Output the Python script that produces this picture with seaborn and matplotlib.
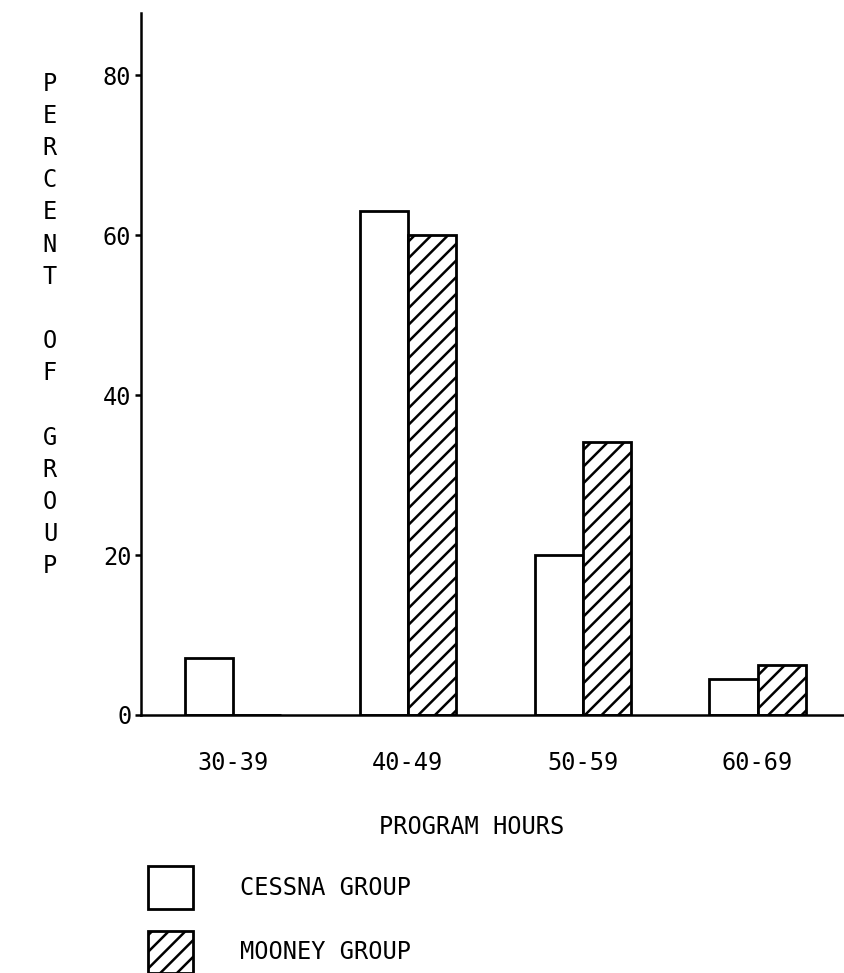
import pandas as pd
import matplotlib
matplotlib.use("Agg")
import matplotlib.pyplot as plt
import seaborn as sns

# values (percent of group)
hours = ["30-39", "40-49", "50-59", "60-69"]
cessna = [7.1, 63.0, 20.0, 4.5]
mooney = [0.0, 60.0, 34.2, 6.3]
groups = ["CESSNA GROUP", "MOONEY GROUP"]

df = pd.DataFrame({
    "hours": hours * 2,
    "pct": cessna + mooney,
    "group": [groups[0]] * len(hours) + [groups[1]] * len(hours),
})

sns.set_style("white")
plt.rcParams["font.family"] = ["DejaVu Sans Mono", "DejaVu Sans"]
plt.rcParams["text.color"] = "black"
plt.rcParams["xtick.color"] = "black"
plt.rcParams["ytick.color"] = "black"
plt.rcParams["axes.labelcolor"] = "black"
plt.rcParams["hatch.linewidth"] = 1.8
plt.rcParams["hatch.color"] = "black"

fig = plt.figure(figsize=(8.45, 9.73), dpi=100)
ax = fig.add_axes([141 / 845, 258 / 973, 1 - 141 / 845, (715 - 13) / 973])

sns.barplot(
    data=df, x="hours", y="pct", hue="group", order=hours, hue_order=groups,
    palette=["white", "white"], edgecolor="black", linewidth=2.0,
    width=0.55, gap=0, ax=ax,
)

# hatch the Mooney bars
for bar in ax.containers[1]:
    bar.set_hatch("//")

ax.set_xlim(-0.526, 3.5)
ax.set_ylim(0, 87.8)
ax.set_yticks([0, 20, 40, 60, 80])

for side in ["top", "right"]:
    ax.spines[side].set_visible(False)
for side in ["left", "bottom"]:
    ax.spines[side].set_linewidth(1.8)
    ax.spines[side].set_color("black")

ax.tick_params(axis="y", left=True, length=4, width=1.8, pad=3, labelsize=17)
ax.tick_params(axis="x", bottom=False, length=0, pad=26, labelsize=17)

ax.set_ylabel("")
ax.set_xlabel("PROGRAM HOURS", fontsize=17)
ax.xaxis.set_label_coords((472 - 141) / 704, -(815 - 715) / 702)

# stacked vertical y-axis title
fig.text(50 / 845, 1 - 325 / 973, "P\nE\nR\nC\nE\nN\nT\n\nO\nF\n\nG\nR\nO\nU\nP",
         ha="center", va="center", fontsize=17, linespacing=1.43)

# legend below the chart
ax.legend(
    handles=[ax.containers[0][0], ax.containers[1][1]], labels=groups,
    loc="upper left", bbox_to_anchor=(148 / 845, 1 - 866 / 973),
    bbox_transform=fig.transFigure, frameon=False, fontsize=17,
    handlelength=1.9, handleheight=2.4, handletextpad=2.0, labelspacing=0.93,
    borderpad=0, borderaxespad=0,
)

fig.savefig("out.png", dpi=100)
